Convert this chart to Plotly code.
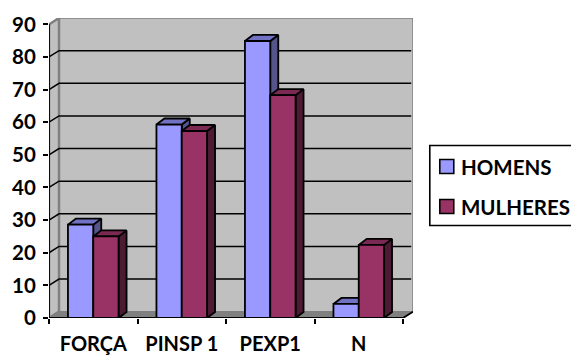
import plotly.graph_objects as go

categories = ["FORÇA", "PINSP 1", "PEXP1", "N"]
homens = [28.6, 59.3, 84.9, 4.3]
mulheres = [25.0, 57.3, 68.3, 22.4]
y_ticks = [0, 10, 20, 30, 40, 50, 60, 70, 80, 90]

FONT = "Lato, Carlito, Calibri, sans-serif"
W, H = 571, 356
L, R, T, B = 48.5, 412.7, 18.0, 318.0
BAR_W = 25.3 / 88.5
DEPTH_X, DEPTH_Y = 8.0 / 88.5, 1.85
WALL_X, WALL_Y = 10.0 / 88.5, 1.95
XMIN, XMAX = -0.5, 3.5 + WALL_X
YMAX = 90 + WALL_Y
EDGE = 1.8
idx = list(range(len(categories)))


def px(x):
    return (x - L) / (R - L)


def py(y):
    return (B - y) / (B - T)


def poly(traces, xs, ys, fill, line, width, zorder, name=None):
    traces.append(go.Scatter(x=xs, y=ys, mode="lines", fill="toself", fillcolor=fill,
                             line=dict(color=line, width=width), hoverinfo="skip",
                             showlegend=False, cliponaxis=False, zorder=zorder, name=name))


def box_faces(vals, left_off, top_col, side_col, z, traces, name):
    tx, ty, sx, sy = [], [], [], []
    for i, v in zip(idx, vals):
        a, b = i + left_off, i + left_off + BAR_W
        tx += [a, a + DEPTH_X, b + DEPTH_X, b, a, None]
        ty += [v, v + DEPTH_Y, v + DEPTH_Y, v, v, None]
        sx += [b, b + DEPTH_X, b + DEPTH_X, b, b, None]
        sy += [v, v + DEPTH_Y, DEPTH_Y, 0, v, None]
    poly(traces, sx, sy, side_col, "#000000", EDGE, z, name + " lado")
    poly(traces, tx, ty, top_col, "#000000", EDGE, z, name + " topo")


tr = []
# walls and floor
poly(tr, [XMIN + WALL_X, XMAX, XMAX, XMIN + WALL_X, XMIN + WALL_X],
     [WALL_Y, WALL_Y, YMAX, YMAX, WALL_Y], "#C0C0C0", "#808080", 1.5, 0, "parede")
poly(tr, [XMIN, XMIN + WALL_X, XMIN + WALL_X, XMIN, XMIN],
     [0, WALL_Y, YMAX, 90, 0], "#C0C0C0", "#808080", 2.5, 0, "parede esq")
poly(tr, [XMIN, 3.5, XMAX, XMIN + WALL_X, XMIN],
     [0, 0, WALL_Y, WALL_Y, 0], "#808080", "#808080", 1, 0, "piso")
# gridlines
gx, gy = [], []
for v in y_ticks[1:-1]:
    gx += [XMIN, XMIN + WALL_X, XMAX - 0.02, None]
    gy += [v, v + WALL_Y, v + WALL_Y, None]
tr.append(go.Scatter(x=gx, y=gy, mode="lines", line=dict(color="#000000", width=1.5),
                     hoverinfo="skip", showlegend=False, cliponaxis=False, zorder=0))
# front axis lines
tr.append(go.Scatter(x=[XMIN, XMIN, None, XMIN, 3.5, XMAX],
                     y=[90, 0, None, 0, 0, WALL_Y], mode="lines",
                     line=dict(color="#000000", width=1.8), hoverinfo="skip",
                     showlegend=False, cliponaxis=False, zorder=0))

box_faces(homens, -BAR_W, "#7272C4", "#55558A", 1, tr, "HOMENS")
tr.append(go.Bar(x=idx, y=homens, width=BAR_W, offset=-BAR_W, name="HOMENS",
                 marker=dict(color="#9999FF", line=dict(color="#000000", width=EDGE)),
                 showlegend=False, zorder=2))
box_faces(mulheres, 0, "#7A2952", "#4D1A33", 3, tr, "MULHERES")
tr.append(go.Bar(x=idx, y=mulheres, width=BAR_W, offset=0, name="MULHERES",
                 marker=dict(color="#993366", line=dict(color="#000000", width=EDGE)),
                 showlegend=False, zorder=4))

fig = go.Figure(tr)

# legend
shapes = [
    dict(type="rect", xref="paper", yref="paper", x0=px(429.5), x1=px(600), y0=py(225.5), y1=py(145.5),
         line=dict(color="#000000", width=1.6), fillcolor="#FFFFFF"),
    dict(type="rect", xref="paper", yref="paper", x0=px(439.5), x1=px(453.5), y0=py(173.5), y1=py(159.5),
         line=dict(color="#000000", width=1.6), fillcolor="#9999FF"),
    dict(type="rect", xref="paper", yref="paper", x0=px(439.5), x1=px(453.5), y0=py(213.5), y1=py(199.5),
         line=dict(color="#000000", width=1.6), fillcolor="#993366"),
]
annotations = [
    dict(xref="paper", yref="paper", x=px(458.5), y=py(167), text="<b>HOMENS</b>", showarrow=False,
         xanchor="left", yanchor="middle", font=dict(family=FONT, size=20.5, color="#000000")),
    dict(xref="paper", yref="paper", x=px(458.5), y=py(207.5), text="<b>MULHERES</b>", showarrow=False,
         xanchor="left", yanchor="middle", font=dict(family=FONT, size=20.5, color="#000000")),
]

fig.update_layout(
    width=W, height=H, barmode="overlay",
    margin=dict(l=L, r=W - R, t=T, b=H - B, pad=0, autoexpand=False),
    paper_bgcolor="#FFFFFF", plot_bgcolor="#FFFFFF", showlegend=False,
    shapes=shapes, annotations=annotations,
    xaxis=dict(range=[XMIN, XMAX], tickmode="array", tickvals=idx, ticktext=[f"<b>{c}</b>" for c in categories],
               ticks="", showgrid=False, zeroline=False, showline=False, ticklabelstandoff=12,
               tickfont=dict(family=FONT, size=20, color="#000000"),
               minor=dict(tickmode="array", tickvals=[-0.5, 0.5, 1.5, 2.5, 3.5], ticks="outside",
                          ticklen=5, tickwidth=1.8, tickcolor="#000000", showgrid=False)),
    yaxis=dict(range=[0, YMAX], tickmode="array", tickvals=y_ticks, ticktext=[f"<b>{v}</b>" for v in y_ticks],
               ticks="outside", ticklen=5, tickwidth=1.8, tickcolor="#000000", showgrid=False,
               zeroline=False, showline=False, ticklabelstandoff=3,
               tickfont=dict(family=FONT, size=20.5, color="#000000")),
)
fig.write_html("out.html", config={"displayModeBar": False},
               post_script="document.body.style.margin='0';document.body.style.overflow='hidden';")
